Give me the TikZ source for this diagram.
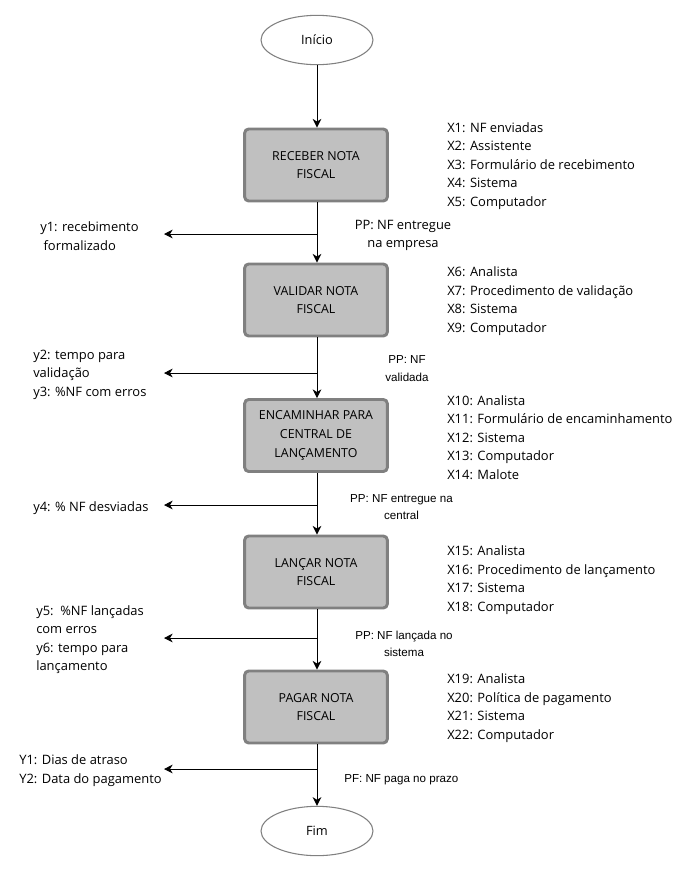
\documentclass[tikz,border=0pt]{standalone}
\usepackage{fontspec}
\setmainfont{Open Sans}
\newfontfamily\arialf{Liberation Sans}
\usetikzlibrary{shapes.geometric,arrows.meta}
\definecolor{boxfill}{HTML}{C0C0C0}
\definecolor{boxline}{HTML}{808080}
\tikzset{
  stepbox/.style={draw=boxline,line width=2.2pt,fill=boxfill,rounded corners=3pt,
    minimum width=107pt,minimum height=54pt,align=center,inner sep=0pt,
    font=\fontsize{9.3}{13.9}\selectfont},
  term/.style={ellipse,draw=boxline,line width=0.8pt,fill=white,minimum width=84pt,
    minimum height=37pt,inner sep=0pt,font=\fontsize{9.6}{12}\selectfont},
  arr/.style={-{Stealth[length=6.5pt,width=6.5pt,inset=2pt]},line width=0.75pt,black},
  lbl/.style={align=left,inner sep=0pt,anchor=west,font=\fontsize{9.7}{13.9}\selectfont},
  pp/.style={align=center,inner sep=0pt,font=\fontsize{9.7}{13}\selectfont},
  ppa/.style={align=center,inner sep=0pt,font=\arialf\fontsize{8.7}{13}\selectfont},
}
\begin{document}
\begin{tikzpicture}[x=0.75pt,y=-0.75pt]
\useasboundingbox (0,0) rectangle (691,872);
\node[term] (ini) at (317,40) {Início};
\node[stepbox] (b1) at (316,165) {RECEBER NOTA\\FISCAL};
\node[stepbox] (b2) at (316,300) {VALIDAR NOTA\\FISCAL};
\node[stepbox] (b3) at (316,435.5) {ENCAMINHAR PARA\\CENTRAL DE\\LANÇAMENTO};
\node[stepbox] (b4) at (316,572) {LANÇAR NOTA\\FISCAL};
\node[stepbox] (b5) at (316,707) {PAGAR NOTA\\FISCAL};
\node[term] (fim) at (317,831) {Fim};

\coordinate (j1) at (317,234); \coordinate (e1) at (164,234);
\coordinate (j2) at (317,373); \coordinate (e2) at (164,373);
\coordinate (j3) at (317,505); \coordinate (e3) at (164,505);
\coordinate (j4) at (317,638); \coordinate (e4) at (164,638);
\coordinate (j5) at (317,769); \coordinate (e5) at (164,769);

\draw[arr] (ini.south -| j1) -- (b1.north -| j1);
\draw[arr] (b1.south -| j1) -- (b2.north -| j1);
\draw[arr] (b2.south -| j1) -- (b3.north -| j1);
\draw[arr] (b3.south -| j1) -- (b4.north -| j1);
\draw[arr] (b4.south -| j1) -- (b5.north -| j1);
\draw[arr] (b5.south -| j1) -- (fim.north -| j1);
\draw[arr] (j1) -- (e1);
\draw[arr] (j2) -- (e2);
\draw[arr] (j3) -- (e3);
\draw[arr] (j4) -- (e4);
\draw[arr] (j5) -- (e5);

\node[lbl] (y1) at (40,236) {y1: recebimento\\\hspace{2.5pt}formalizado};
\node[lbl] (y2) at (33,374.5) {y2: tempo para\\validação\\y3: \%NF com erros};
\node[lbl] (y4) at (33,508) {y4: \% NF desviadas};
\node[lbl] (y5) at (36,639.5) {y5:\ \ \%NF lançadas\\com erros\\y6: tempo para\\lançamento};
\node[lbl] (yy) at (19,770.5) {Y1: Dias de atraso\\Y2: Data do pagamento};

\node[lbl] (x1) at (447,166) {X1: NF enviadas\\X2: Assistente\\X3: Formulário de recebimento\\X4: Sistema\\X5: Computador};
\node[lbl] (x6) at (447,301) {X6: Analista\\X7: Procedimento de validação\\X8: Sistema\\X9: Computador};
\node[lbl] (x10) at (447,437.5) {X10: Analista\\X11: Formulário de encaminhamento\\X12: Sistema\\X13: Computador\\X14: Malote};
\node[lbl] (x15) at (447,580) {X15: Analista\\X16: Procedimento de lançamento\\X17: Sistema\\X18: Computador};
\node[lbl] (x19) at (447,708) {X19: Analista\\X20: Política de pagamento\\X21: Sistema\\X22: Computador};

\node[pp] (p1) at (403,235.5) {PP: NF entregue\\na empresa};
\node[ppa] (p2) at (407,368.5) {PP: NF\\validada};
\node[ppa] (p3) at (401.5,507) {PP: NF entregue na\\central};
\node[ppa] (p4) at (404,644) {PP: NF lançada no\\sistema};
\node[ppa,anchor=west] (p5) at (344,780) {PF: NF paga no prazo};
\end{tikzpicture}
\end{document}
